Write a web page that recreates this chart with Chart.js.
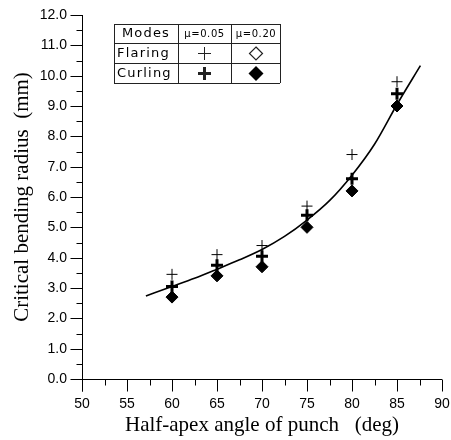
<!DOCTYPE html>
<html>
<head>
<meta charset="utf-8">
<script src="https://cdn.jsdelivr.net/npm/chart.js@4.4.0/dist/chart.umd.min.js"></script>
<style>body{margin:0;background:#fff}</style>
</head>
<body>
<canvas id="c" width="451" height="440"></canvas>
<script>
// --- data ---
const angles = [60, 65, 70, 75, 80, 85];
const flaring005 = [3.45, 4.1, 4.4, 5.7, 7.4, 9.8];   // thin plus
const curling005 = [3.05, 3.75, 4.05, 5.4, 6.6, 9.4];  // thick plus
const curling020 = [2.7, 3.4, 3.7, 5.0, 6.2, 9.0];    // filled diamond
// fitted curve
const fitAngles = [57.1, 60, 62.5, 65, 67.5, 70, 72.5, 75, 77.5, 80, 82.5, 85, 87.6];
const fitRadius = [2.74, 3.05, 3.32, 3.62, 3.93, 4.27, 4.7, 5.24, 5.88, 6.72, 7.74, 9.05, 10.33];
const xTickLabels = ['50', '55', '60', '65', '70', '75', '80', '85', '90'];
const yTickLabels = ['0.0', '1.0', '2.0', '3.0', '4.0', '5.0', '6.0', '7.0', '8.0', '9.0', '10.0', '11.0', '12.0'];

const pts = (xs, ys) => xs.map((x, i) => ({x: x, y: ys[i]}));

// ticks and axis lines drawn by hand (minor ticks are shorter)
const axesPlugin = {
    id: 'axesPlugin',
    afterDraw(chart) {
        const ctx = chart.ctx;
        const xs = chart.scales.x, ys = chart.scales.y;
        const x0 = Math.round(xs.getPixelForValue(50)) + 0.5;
        const y0 = Math.round(ys.getPixelForValue(0)) + 0.5;
        ctx.save();
        ctx.strokeStyle = '#000';
        ctx.lineWidth = 1;
        ctx.beginPath();
        ctx.moveTo(x0, ys.getPixelForValue(12));
        ctx.lineTo(x0, y0 + 12);
        ctx.moveTo(x0, y0);
        ctx.lineTo(xs.getPixelForValue(90), y0);
        for (let v = 0; v <= 12; v += 0.5) {
            const y = Math.round(ys.getPixelForValue(v)) + 0.5;
            const len = v % 1 === 0 ? 12 : 6;
            ctx.moveTo(x0 - len, y);
            ctx.lineTo(x0, y);
        }
        for (let v = 50; v <= 90; v += 2.5) {
            const x = Math.round(xs.getPixelForValue(v)) + 0.5;
            const len = v % 5 === 0 ? 12 : 6;
            ctx.moveTo(x, y0);
            ctx.lineTo(x, y0 + len);
        }
        ctx.stroke();
        ctx.restore();
    }
};

// the little table used as legend
const legendTable = {
    id: 'legendTable',
    afterDraw(chart) {
        const ctx = chart.ctx;
        const cols = [114, 178, 231, 280];
        const rows = [24, 43, 63, 83];
        ctx.save();
        ctx.strokeStyle = '#222';
        ctx.lineWidth = 1;
        ctx.beginPath();
        rows.forEach(y => { ctx.moveTo(cols[0], y + 0.5); ctx.lineTo(cols[3], y + 0.5); });
        cols.forEach(x => { ctx.moveTo(x + 0.5, rows[0]); ctx.lineTo(x + 0.5, rows[3]); });
        ctx.stroke();

        ctx.fillStyle = '#000';
        ctx.textBaseline = 'middle';
        ctx.font = '13px "DejaVu Sans"';
        ctx.letterSpacing = '1.2px';
        ctx.textAlign = 'center';
        ctx.fillText('Modes', 146, 34);
        ctx.textAlign = 'left';
        ctx.fillText('Flaring', 117, 53.5);
        ctx.fillText('Curling', 117, 73.5);
        ctx.font = '10px "DejaVu Sans"';
        ctx.letterSpacing = '0.6px';
        ctx.textAlign = 'center';
        ctx.fillText('\u03bc=0.05', 204.5, 34);
        ctx.fillText('\u03bc=0.20', 256, 34);

        // symbols
        ctx.beginPath();
        ctx.lineWidth = 1;
        ctx.moveTo(198, 53.5); ctx.lineTo(211, 53.5);
        ctx.moveTo(204.5, 47); ctx.lineTo(204.5, 60);
        ctx.stroke();
        ctx.beginPath();
        ctx.lineWidth = 3;
        ctx.moveTo(198, 73.5); ctx.lineTo(211, 73.5);
        ctx.moveTo(204.5, 67); ctx.lineTo(204.5, 80);
        ctx.stroke();
        ctx.beginPath();
        ctx.lineWidth = 1.2;
        ctx.moveTo(256, 47); ctx.lineTo(262.5, 53.5); ctx.lineTo(256, 60); ctx.lineTo(249.5, 53.5); ctx.closePath();
        ctx.stroke();
        ctx.beginPath();
        ctx.moveTo(256, 66); ctx.lineTo(263.5, 73.5); ctx.lineTo(256, 81); ctx.lineTo(248.5, 73.5); ctx.closePath();
        ctx.fill();
        ctx.restore();
    }
};

const ctx = document.getElementById('c').getContext('2d');
const chart = new Chart(ctx, {
    type: 'scatter',
    data: {
        datasets: [{
            label: 'Flaring \u03bc=0.05',
            data: pts(angles, flaring005),
            pointStyle: 'cross',
            pointRadius: 5.5,
            borderColor: '#000',
            borderWidth: 1
        }, {
            label: 'Curling \u03bc=0.05',
            data: pts(angles, curling005),
            pointStyle: 'cross',
            pointRadius: 6,
            borderColor: '#000',
            borderWidth: 3
        }, {
            label: 'Curling \u03bc=0.20',
            data: pts(angles, curling020),
            pointStyle: 'rectRot',
            pointRadius: 6,
            backgroundColor: '#000',
            borderColor: '#000',
            borderWidth: 1
        }, {
            label: 'fit',
            data: pts(fitAngles, fitRadius),
            showLine: true,
            pointRadius: 0,
            borderColor: '#000',
            borderWidth: 1.6,
            cubicInterpolationMode: 'monotone',
            fill: false
        }]
    },
    options: {
        responsive: false,
        animation: false,
        layout: { padding: { top: 15, right: 8, left: 0, bottom: 0 } },
        plugins: { legend: { display: false }, tooltip: { enabled: false } },
        scales: {
            x: {
                type: 'linear',
                min: 50, max: 90,
                afterFit: s => { s.height = 61; s.paddingRight = 0; },
                grid: { drawOnChartArea: false, drawTicks: true, tickLength: 12, color: 'rgba(0,0,0,0)' },
                border: { display: false },
                ticks: {
                    stepSize: 5, autoSkip: false, maxRotation: 0, padding: 5,
                    color: '#000', font: { family: '"Liberation Sans", Arial', size: 14 },
                    callback: v => xTickLabels[(v - 50) / 5] ?? ''
                },
                title: {
                    display: true,
                    text: 'Half-apex angle of punch   (deg)',
                    color: '#000',
                    font: { family: '"Liberation Serif", "Times New Roman"', size: 21 },
                    padding: { top: 0, bottom: 2 }
                }
            },
            y: {
                min: 0, max: 12,
                afterFit: s => { s.width = 82; },
                grid: { drawOnChartArea: false, drawTicks: true, tickLength: 12, color: 'rgba(0,0,0,0)' },
                border: { display: false },
                ticks: {
                    stepSize: 1, autoSkip: false, padding: 3,
                    color: '#000', font: { family: '"Liberation Sans", Arial', size: 14 },
                    callback: v => yTickLabels[v] ?? ''
                },
                title: {
                    display: true,
                    text: 'Critical bending radius  (mm)',
                    color: '#000',
                    font: { family: '"Liberation Serif", "Times New Roman"', size: 21 },
                    padding: { top: 10, bottom: 0 }
                }
            }
        }
    },
    plugins: [axesPlugin, legendTable]
});
</script>
</body>
</html>
